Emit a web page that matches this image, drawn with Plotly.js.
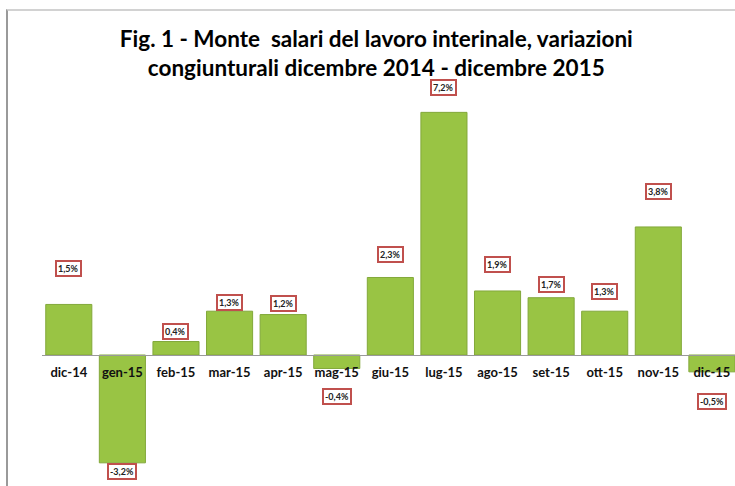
<!DOCTYPE html>
<html>
<head>
<meta charset="utf-8">
<script src="https://cdn.plot.ly/plotly-3.0.1.min.js"></script>
<style>
  html, body { margin: 0; padding: 0; overflow: hidden; background: #fff; }
  #chart { position: absolute; left: 0; top: 0; width: 735px; height: 486px; }
  #frame { position: absolute; left: 6px; top: 9px; width: 740px; height: 490px;
           border-left: 2px solid #9a9a9a; border-top: 2px solid #d2d2d2; pointer-events: none; }
</style>
</head>
<body>
<div id="chart"></div>
<div id="frame"></div>
<script>
const categories = ["dic-14","gen-15","feb-15","mar-15","apr-15","mag-15","giu-15","lug-15","ago-15","set-15","ott-15","nov-15","dic-15"];
const values = [1.5, -3.2, 0.4, 1.3, 1.2, -0.4, 2.3, 7.2, 1.9, 1.7, 1.3, 3.8, -0.5];
const labels = ["1,5%","-3,2%","0,4%","1,3%","1,2%","-0,4%","2,3%","7,2%","1,9%","1,7%","1,3%","3,8%","-0,5%"];
const labelShift = [36, -9, 10, 9, 11, -28, 23, 25, 26, 13, 20, 35, -30];

const FONT = "Lato, 'Open Sans', 'DejaVu Sans', sans-serif";

const trace = {
  type: "bar",
  x: categories,
  y: values,
  marker: { color: "#99c444", line: { color: "#82a83a", width: 1 } },
  hoverinfo: "none"
};

const annotations = categories.map((c, i) => ({
  x: c, y: values[i], xref: "x", yref: "y",
  text: "<b>" + labels[i] + "</b>",
  showarrow: false,
  yshift: labelShift[i],
  font: { family: FONT, size: 9, color: "#222" },
  bgcolor: "#ffffff",
  bordercolor: "#c0504d",
  borderwidth: 2,
  borderpad: 1
}));

const zeroPx = 355, H = 486, pxPerUnit = 33.7;
const layout = {
  width: 735, height: 486,
  margin: { l: 42, r: 0, t: 0, b: 0 },
  paper_bgcolor: "rgba(0,0,0,0)",
  plot_bgcolor: "rgba(0,0,0,0)",
  showlegend: false,
  bargap: 0.14,
  title: {
    text: "<b>Fig. 1 - Monte \u00a0salari del lavoro interinale, variazioni<br>congiunturali dicembre 2014 - dicembre 2015</b>",
    font: { family: FONT, size: 22.5, color: "#000" },
    x: 0.512, xref: "container", xanchor: "center",
    y: 1 - 47 / H, yref: "container", yanchor: "middle"
  },
  xaxis: {
    type: "category",
    range: [-0.5, 12.431],
    anchor: "free",
    position: (H - zeroPx) / H,
    showline: true, linecolor: "#999999", linewidth: 1,
    ticks: "", showgrid: false, zeroline: false,
    ticklabelstandoff: 5,
    tickfont: { family: FONT, size: 13, color: "#111", weight: "bold" },
    fixedrange: true
  },
  yaxis: {
    range: [-(H - zeroPx) / pxPerUnit, zeroPx / pxPerUnit],
    visible: false, showgrid: false, zeroline: false,
    fixedrange: true
  },
  annotations: annotations
};

Plotly.newPlot("chart", [trace], layout, { staticPlot: true, displayModeBar: false });
</script>
</body>
</html>
